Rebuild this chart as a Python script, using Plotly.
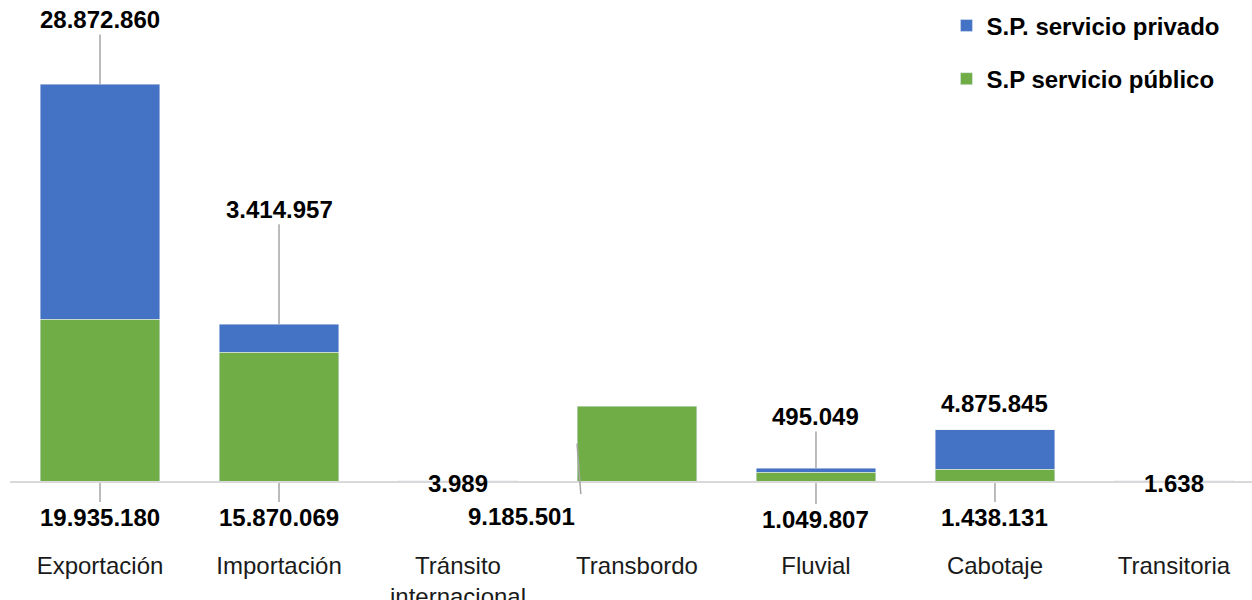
import plotly.graph_objects as go

categories = ["Exportación", "Importación", "Tránsito<br>internacional", "Transbordo",
              "Fluvial", "Cabotaje", "Transitoria"]
publico = [19935180, 15870069, 3989, 9185501, 1049807, 1438131, 1638]
privado = [28872860, 3414957, None, None, 495049, 4875845, None]
name_publico = "S.P servicio público"
name_privado = "S.P. servicio privado"

BLUE = "#4472C4"
GREEN = "#70AD47"
LEADER = "#A6A6A6"
FONT = "Liberation Sans, Arial, sans-serif"
FS = 24

def fmt(v):
    return f"{v:,}".replace(",", ".")

fig = go.Figure()
fig.add_bar(x=categories, y=publico, name=name_publico, marker_color=GREEN,
            width=0.67, legendgroup="pub", legendrank=2, hoverinfo="skip")
fig.add_bar(x=categories, y=privado, name=name_privado, marker_color=BLUE,
            width=0.67, legendgroup="priv", legendrank=1, hoverinfo="skip")

lbl_font = dict(family=FONT, size=FS, color="#000000")
ann = []
# label placement styles (pixel offsets)
pub_style = ["below", "below", "baseline", "left", "below", "below", "baseline"]
pub_ay = [36, 36, 0, 73, 38, 36, 0]
priv_ay = [-65, -115, None, None, -52, -26, None]

for i, cat in enumerate(categories):
    v = publico[i]
    st = pub_style[i]
    txt = "<b>" + fmt(v) + "</b>"
    if st == "below":
        ann.append(dict(x=cat, y=0, text=txt, showarrow=True, arrowhead=0,
                        arrowwidth=1.5, arrowcolor=LEADER, ax=0, ay=pub_ay[i],
                        standoff=2, font=lbl_font))
    elif st == "baseline":
        ann.append(dict(x=cat, y=0, text=txt, showarrow=False, yanchor="middle",
                        yshift=-2, font=lbl_font))
    elif st == "left":
        ann.append(dict(x=cat, y=v / 2, text=txt, showarrow=False, xshift=-116,
                        yshift=-pub_ay[i], font=lbl_font))
        ann.append(dict(x=cat, y=v / 2, text=" ", showarrow=True, arrowhead=0,
                        arrowwidth=1.5, arrowcolor=LEADER, ax=4, ay=53,
                        xshift=-60, font=dict(size=2)))
    p = privado[i]
    if p:
        top = v + p
        ptxt = "<b>" + fmt(p) + "</b>"
        ay = priv_ay[i]
        if ay < -30:
            ann.append(dict(x=cat, y=top, text=ptxt, showarrow=True, arrowhead=0,
                            arrowwidth=1.5, arrowcolor=LEADER, ax=0, ay=ay,
                            standoff=0, font=lbl_font))
        else:
            ann.append(dict(x=cat, y=top, text=ptxt, showarrow=False,
                            yanchor="middle", yshift=-ay, font=lbl_font))

fig.update_layout(
    barmode="stack",
    width=1252, height=600,
    margin=dict(l=10, r=0, t=0, b=119, autoexpand=False),
    plot_bgcolor="white", paper_bgcolor="white",
    font=dict(family=FONT, size=FS, color="#1a1a1a"),
    annotations=ann,
    showlegend=True,
    legend=dict(x=0.754, xanchor="left", y=0.993, yanchor="top",
                font=dict(family=FONT, size=FS, color="#000000", weight="bold"),
                tracegroupgap=19, bgcolor="rgba(0,0,0,0)"),
    xaxis=dict(showline=True, linecolor="#D9D9D9", linewidth=1.5, ticks="",
               automargin=False,
               range=[-0.503, 6.436], ticklabelstandoff=62,
               tickfont=dict(family=FONT, size=FS, color="#1a1a1a")),
    yaxis=dict(visible=False, automargin=False, range=[0, 59.2e6],
               showgrid=False, zeroline=False),
)

fig.write_html("out.html", config={"displayModeBar": False},
               post_script="document.body.style.margin='0';document.body.style.overflow='hidden';")
